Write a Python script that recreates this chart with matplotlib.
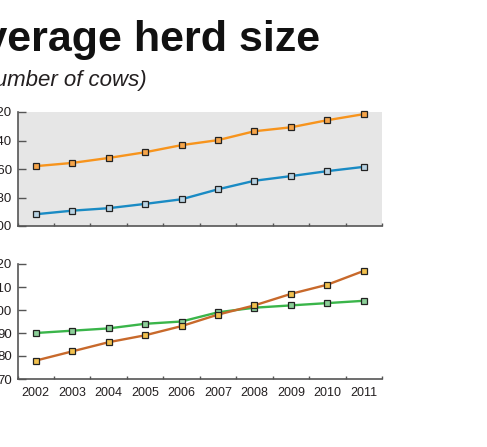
import numpy as np
import matplotlib.pyplot as plt

years = ['2002', '2003', '2004', '2005', '2006', '2007', '2008', '2009', '2010', '2011']

# top panel
top_orange = [268, 277, 291, 307, 327, 341, 366, 377, 397, 414]
top_blue = [133, 143, 150, 162, 175, 203, 227, 240, 254, 266]
top_ticks = [100, 180, 260, 340, 420]

# bottom panel
bot_green = [90, 91, 92, 94, 95, 99, 101, 102, 103, 104]
bot_brown = [78, 82, 86, 89, 93, 98, 102, 107, 111, 117]
bot_ticks = [70, 80, 90, 100, 110, 120]

W, H = 487, 447
fig = plt.figure(figsize=(W / 100, H / 100), dpi=100)
plt.rcParams['font.family'] = ['Liberation Sans', 'DejaVu Sans']

spine_col = '#555555'
txt_col = '#231f20'


def px_axes(x0, y0, x1, y1):
    return fig.add_axes([x0 / W, 1 - y1 / H, (x1 - x0) / W, (y1 - y0) / H])


def style(ax, ticks, labels):
    x = np.arange(len(years))
    ax.set_xlim(-0.5, len(years) - 0.5)
    ax.set_ylim(ticks[0], ticks[-1])
    ax.set_yticks(ticks)
    ax.set_yticklabels([str(t) for t in ticks])
    ax.set_xticks(np.arange(-0.5, len(years), 1))
    ax.set_xticklabels([])
    ax.set_xticks(x, minor=True)
    if labels:
        ax.set_xticklabels(years, minor=True)
    ax.tick_params(axis='x', which='major', direction='in', length=2.5,
                   width=1, color=spine_col)
    ax.tick_params(axis='x', which='minor', length=0, pad=6,
                   labelsize=9, labelcolor=txt_col)
    ax.tick_params(axis='y', direction='in', length=6, width=1,
                   color=spine_col, pad=4, labelsize=9.5, labelcolor=txt_col)
    for s in ['top', 'right']:
        ax.spines[s].set_visible(False)
    for s in ['left', 'bottom']:
        ax.spines[s].set_color(spine_col)
        ax.spines[s].set_linewidth(1.2)


def series(ax, vals, line_col, face_col):
    ax.plot(np.arange(len(vals)), vals, color=line_col, lw=1.7,
            marker='s', ms=4.2, mfc=face_col, mec='#222222', mew=0.9,
            clip_on=False, zorder=3)


ax1 = px_axes(17.5, 112, 382, 226)
ax1.set_facecolor('#e6e6e6')
style(ax1, top_ticks, False)
series(ax1, top_orange, '#f7941d', '#f6a54a')
series(ax1, top_blue, '#1a8bc4', '#b8d3e3')

ax2 = px_axes(17.5, 264, 382, 379)
style(ax2, bot_ticks, True)
series(ax2, bot_green, '#3ab54a', '#8ccf98')
series(ax2, bot_brown, '#c8692b', '#f2c14e')

fig.text(320 / W, 1 - 51 / H, 'Average herd size', ha='right', va='baseline',
         fontsize=31, fontweight='bold', color='#111111')
fig.text(147 / W, 1 - 86 / H, '(number of cows)', ha='right', va='baseline',
         fontsize=16, style='italic', color=txt_col)

fig.savefig('out.png', dpi=100)
